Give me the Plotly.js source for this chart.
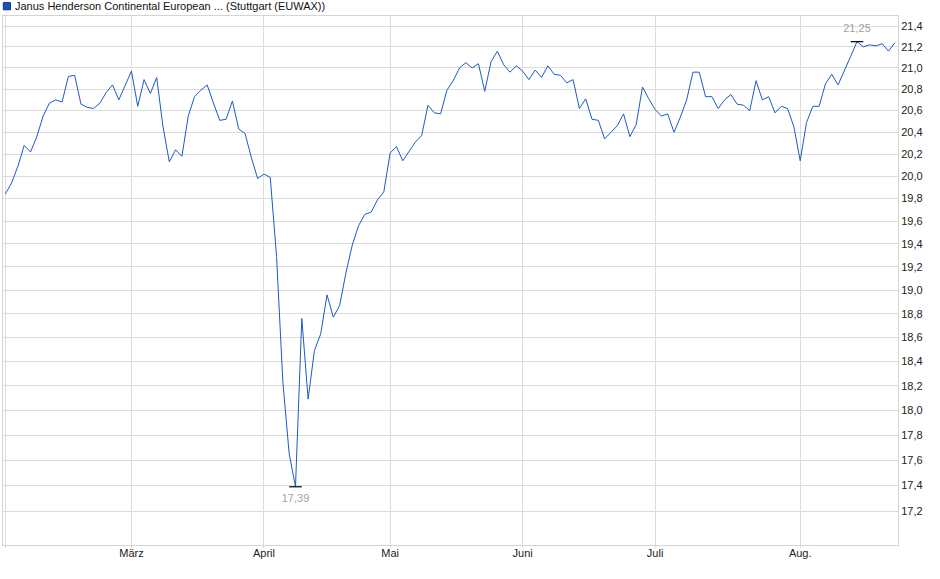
<!DOCTYPE html>
<html>
<head>
<meta charset="utf-8">
<script src="https://cdn.plot.ly/plotly-3.0.1.min.js"></script>
<style>
  html, body { margin: 0; padding: 0; background: #fff; }
  #chart { width: 940px; height: 579px; }
</style>
</head>
<body>
<div id="chart"></div>
<script>
// closing prices, one value per trading day
var feb = [19.84, 19.94, 20.09, 20.28, 20.22, 20.36, 20.55, 20.67, 20.70, 20.68,
           20.92, 20.93, 20.66, 20.63, 20.62, 20.67, 20.77, 20.84, 20.70, 20.83];
var mar = [20.97, 20.64, 20.89, 20.76, 20.91, 20.45, 20.13, 20.24, 20.18, 20.55,
           20.73, 20.79, 20.84, 20.67, 20.51, 20.52, 20.69, 20.43, 20.39, 20.17, 19.98];
var apr = [20.02, 19.99, 19.29, 18.23, 17.65, 17.39, 18.76, 18.09, 18.49, 18.63,
           18.96, 18.77, 18.87, 19.15, 19.39, 19.56, 19.66, 19.68, 19.79, 19.86];
var may = [20.21, 20.27, 20.14, 20.22, 20.31, 20.37, 20.65, 20.58, 20.57, 20.79,
           20.88, 21.00, 21.05, 21.00, 21.04, 20.78, 21.06, 21.16, 21.03, 20.96, 21.02];
var jun = [20.97, 20.89, 20.98, 20.91, 21.02, 20.94, 20.93, 20.86, 20.89, 20.62,
           20.71, 20.52, 20.51, 20.34, 20.40, 20.46, 20.57, 20.36, 20.47, 20.82, 20.71];
var jul = [20.61, 20.55, 20.57, 20.40, 20.54, 20.70, 20.96, 20.96, 20.73, 20.73,
           20.62, 20.70, 20.75, 20.66, 20.65, 20.60, 20.88, 20.70, 20.73, 20.58,
           20.64, 20.62, 20.45];
var aug = [20.14, 20.49, 20.64, 20.64, 20.85, 20.94, 20.84, 20.97, 21.11, 21.25,
           21.20, 21.22, 21.21, 21.23, 21.16, 21.24];

var holidays = ['2025-04-18', '2025-04-21', '2025-05-01'];
var firstDay = '2025-02-03';
var lastDay = '2025-08-22';

var monthTicks = ['2025-02-03', '2025-03-03', '2025-04-01', '2025-05-02',
                  '2025-06-02', '2025-07-01', '2025-08-01'];
var monthLabels = ['', 'März', 'April', 'Mai', 'Juni', 'Juli', 'Aug.'];

var yTicks = [17.2, 17.4, 17.6, 17.8, 18.0, 18.2, 18.4, 18.6, 18.8, 19.0, 19.2,
              19.4, 19.6, 19.8, 20.0, 20.2, 20.4, 20.6, 20.8, 21.0, 21.2, 21.4];

var seriesName = 'Janus Henderson Continental European ... (Stuttgart (EUWAX))';

// list the trading days (weekdays without exchange holidays)
function tradingDays(from, to, skip) {
  var days = [];
  var d = new Date(from + 'T12:00:00Z');
  var end = new Date(to + 'T12:00:00Z');
  while (d <= end) {
    var s = d.toISOString().slice(0, 10);
    var wd = d.getUTCDay();
    if (wd !== 0 && wd !== 6 && skip.indexOf(s) < 0) days.push(s);
    d.setUTCDate(d.getUTCDate() + 1);
  }
  return days;
}

var dates = tradingDays(firstDay, lastDay, holidays);
var prices = feb.concat(mar, apr, may, jun, jul, aug);

var iMax = prices.indexOf(Math.max.apply(null, prices));
var iMin = prices.indexOf(Math.min.apply(null, prices));

function de(v) { return v.toFixed(2).replace('.', ','); }

var line = {
  type: 'scatter',
  mode: 'lines',
  x: dates,
  y: prices,
  line: { color: '#1c5bc4', width: 1 },
  hoverinfo: 'x+y'
};

var extremes = {
  type: 'scatter',
  mode: 'markers+text',
  x: [dates[iMax], dates[iMin]],
  y: [prices[iMax], prices[iMin]],
  text: [de(prices[iMax]), de(prices[iMin])],
  textposition: ['top center', 'bottom center'],
  textfont: { family: 'Liberation Sans, Arial, sans-serif', size: 11, color: '#a3a3a3' },
  marker: { symbol: 'line-ew-open', size: 9, color: '#000', line: { color: '#000', width: 1.2 } },
  hoverinfo: 'skip'
};

var plotW = 895, plotH = 529;

var layout = {
  width: 940,
  height: 579,
  margin: { l: 3, r: 42, t: 16, b: 34 },
  paper_bgcolor: '#fff',
  plot_bgcolor: '#fff',
  showlegend: false,
  font: { family: 'Liberation Sans, Arial, sans-serif', size: 11, color: '#222' },
  xaxis: {
    type: 'category',
    range: [-0.36, 141.5],
    tickmode: 'array',
    tickvals: monthTicks,
    ticktext: monthLabels,
    showgrid: true,
    gridcolor: '#dcdcdc',
    gridwidth: 1,
    ticks: 'outside',
    ticklen: 2,
    tickcolor: '#dcdcdc',
    ticklabelstandoff: -4,
    showline: true,
    linecolor: '#d4d4d4',
    linewidth: 1,
    mirror: true,
    zeroline: false,
    tickfont: { size: 11, color: '#222' }
  },
  yaxis: {
    type: 'log',
    side: 'right',
    range: [Math.log10(16.94), Math.log10(21.497)],
    tickmode: 'array',
    tickvals: yTicks,
    ticktext: yTicks.map(function (v) { return v.toFixed(1).replace('.', ','); }),
    showgrid: true,
    gridcolor: '#dcdcdc',
    gridwidth: 1,
    ticks: '',
    showline: true,
    linecolor: '#d4d4d4',
    linewidth: 1,
    mirror: true,
    zeroline: false,
    tickfont: { size: 11, color: '#222' }
  },
  shapes: [{
    type: 'rect',
    xref: 'paper', yref: 'paper',
    x0: 0.3 / plotW, x1: 7.5 / plotW,
    y0: 1 + (16 - 9.8) / plotH, y1: 1 + (16 - 2.6) / plotH,
    fillcolor: '#1d4fb8',
    line: { color: '#15367a', width: 1 }
  }],
  annotations: [{
    xref: 'paper', yref: 'paper',
    x: 10 / plotW, y: 1 + (16 - 6.3) / plotH,
    xanchor: 'left', yanchor: 'middle',
    showarrow: false,
    text: seriesName,
    font: { size: 11, color: '#111' }
  }]
};

Plotly.newPlot('chart', [line, extremes], layout, { displayModeBar: false, staticPlot: true });
</script>
</body>
</html>
